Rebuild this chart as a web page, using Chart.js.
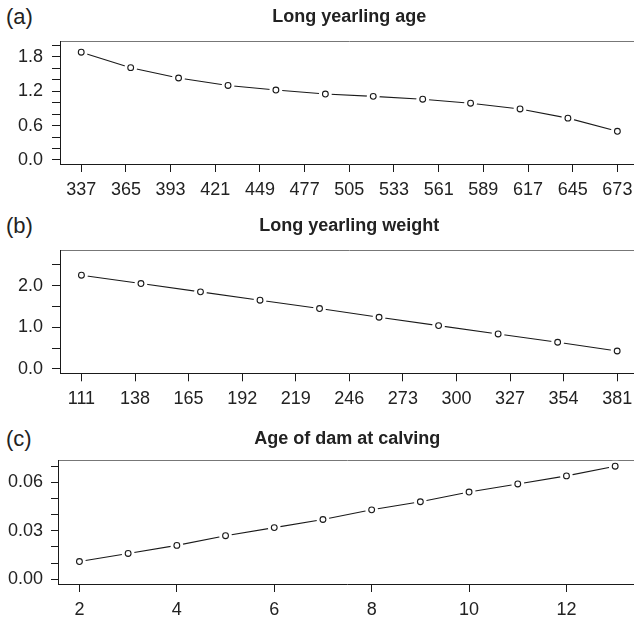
<!DOCTYPE html>
<html>
<head>
<meta charset="utf-8">
<script src="https://cdn.jsdelivr.net/npm/chart.js@4"></script>
<style>
  html, body { margin: 0; padding: 0; background: #fff; }
  body { width: 634px; height: 623px; overflow: hidden; position: relative; }
  canvas { position: absolute; left: 0; }
  .tag { position: absolute; left: 6px; font-family: "Liberation Sans", Arial, sans-serif; font-size: 22px; line-height: 22px; color: #222; }
</style>
</head>
<body>
<div class="tag" style="top:6px">(a)</div>
<div class="tag" style="top:215px">(b)</div>
<div class="tag" style="top:428px">(c)</div>
<canvas id="ca" width="645" height="205" style="top:0px;width:645px;height:205px"></canvas>
<canvas id="cb" width="645" height="210" style="top:205px;width:645px;height:210px"></canvas>
<canvas id="cc" width="643" height="208" style="top:415px;width:643px;height:208px"></canvas>
<script>
// ---- Panel (a): Long yearling age ----
const titleA = "Long yearling age";
const aX = [337, 368, 398, 429, 459, 490, 520, 551, 581, 612, 642, 673];
const aY = [1.88, 1.61, 1.43, 1.30, 1.22, 1.15, 1.11, 1.06, 0.99, 0.89, 0.73, 0.50];
const aXTicks = [337, 365, 393, 421, 449, 477, 505, 533, 561, 589, 617, 645, 673];
const aYTicks = [0.0, 0.2, 0.4, 0.6, 0.8, 1.0, 1.2, 1.4, 1.6, 1.8, 2.0];
const aYLabels = [0.0, 0.6, 1.2, 1.8];

// ---- Panel (b): Long yearling weight ----
const titleB = "Long yearling weight";
const bX = [111, 141, 171, 201, 231, 261, 291, 321, 351, 381];
const bY = [2.25, 2.05, 1.85, 1.65, 1.45, 1.24, 1.04, 0.84, 0.64, 0.43];
const bXTicks = [111, 138, 165, 192, 219, 246, 273, 300, 327, 354, 381];
const bYTicks = [0.0, 0.5, 1.0, 1.5, 2.0, 2.5];
const bYLabels = [0.0, 1.0, 2.0];

// ---- Panel (c): Age of dam at calving ----
const titleC = "Age of dam at calving";
const cX = [2, 3, 4, 5, 6, 7, 8, 9, 10, 11, 12, 13];
const cY = [0.011, 0.016, 0.021, 0.027, 0.032, 0.037, 0.043, 0.048, 0.054, 0.059, 0.064, 0.070];
const cXTicks = [2, 4, 6, 8, 10, 12];
const cYTicks = [0.00, 0.01, 0.02, 0.03, 0.04, 0.05, 0.06, 0.07];
const cYLabels = [0.00, 0.03, 0.06];

Chart.defaults.font.family = '"Liberation Sans", Arial, Helvetica, sans-serif';
Chart.defaults.color = '#222';

const INK = '#1a1a1a';

function makePanel(id, p) {
  const pts = p.x.map((v, i) => ({ x: v, y: p.y[i] }));
  const isLabel = v => p.yLabels.some(l => Math.abs(l - v) < 1e-9);
  new Chart(document.getElementById(id), {
    type: 'scatter',
    data: {
      datasets: [
        { data: pts, showLine: false, pointRadius: 2.9, pointBorderWidth: 1.1,
          pointBorderColor: INK, pointBackgroundColor: '#fff' },
        { data: pts, showLine: false, pointRadius: 6.4, pointBorderWidth: 0,
          pointBorderColor: '#fff', pointBackgroundColor: '#fff' },
        { data: pts, showLine: true, pointRadius: 0, borderColor: INK, borderWidth: 1.1, tension: 0 }
      ]
    },
    options: {
      responsive: false,
      animation: false,
      events: [],
      layout: { padding: { left: 0, right: p.padRight, top: 0, bottom: 0 } },
      plugins: {
        legend: { display: false },
        tooltip: { enabled: false },
        title: {
          display: true, text: p.title, fullSize: false, color: '#222',
          font: { size: 18, weight: 'bold' },
          padding: { top: p.titleTop, bottom: p.titleBottom }
        }
      },
      scales: {
        x: {
          type: 'linear', position: 'bottom', min: p.xMin, max: p.xMax,
          afterBuildTicks: s => { s.ticks = p.xTicks.map(v => ({ value: v })); },
          afterFit: s => { s.height = p.xAxisH; },
          ticks: { autoSkip: false, maxRotation: 0, padding: 7, font: { size: 18 }, color: '#222',
                   callback: v => String(v) },
          grid: { drawOnChartArea: false, drawTicks: true, tickLength: 8, color: INK, tickWidth: 1 },
          border: { display: true, color: INK, width: 1 }
        },
        xt: {
          type: 'linear', position: 'top', min: p.xMin, max: p.xMax,
          afterFit: s => { s.height = 0; },
          ticks: { display: false },
          grid: { display: false, drawTicks: false },
          border: { display: true, color: '#777', width: 1 }
        },
        y: {
          type: 'linear', position: 'left', min: p.yMin, max: p.yMax,
          afterBuildTicks: s => { s.ticks = p.yTicks.map(v => ({ value: v })); },
          afterFit: s => { s.width = p.yAxisW; },
          ticks: { autoSkip: false, padding: p.yPad, font: { size: 18 }, color: '#222',
                   callback: v => isLabel(v) ? v.toFixed(p.dec) : '' },
          grid: { drawOnChartArea: false, drawTicks: true, tickLength: p.yTick, color: INK, tickWidth: 1 },
          border: { display: true, color: INK, width: 1 }
        }
      }
    }
  });
}

makePanel('ca', { title: titleA, x: aX, y: aY, xTicks: aXTicks, yTicks: aYTicks, yLabels: aYLabels,
  xMin: 323.7, xMax: 686.3, yMin: -0.07, yMax: 2.075, dec: 1,
  titleTop: 6.7, titleBottom: 12.7, xAxisH: 41, yAxisW: 60, yPad: 9, yTick: 8, padRight: 2 });

makePanel('cb', { title: titleB, x: bX, y: bY, xTicks: bXTicks, yTicks: bYTicks, yLabels: bYLabels,
  xMin: 100.2, xMax: 391.8, yMin: -0.105, yMax: 2.855, dec: 1,
  titleTop: 10.7, titleBottom: 12.7, xAxisH: 41.7, yAxisW: 60, yPad: 9, yTick: 8, padRight: 2 });

makePanel('cc', { title: titleC, x: cX, y: cY, xTicks: cXTicks, yTicks: cYTicks, yLabels: cYLabels,
  xMin: 1.56, xMax: 13.44, yMin: -0.0029, yMax: 0.0734, dec: 2,
  titleTop: 13.2, titleBottom: 10.9, xAxisH: 39, yAxisW: 58, yPad: 8, yTick: 7, padRight: 3 });
</script>
</body>
</html>
